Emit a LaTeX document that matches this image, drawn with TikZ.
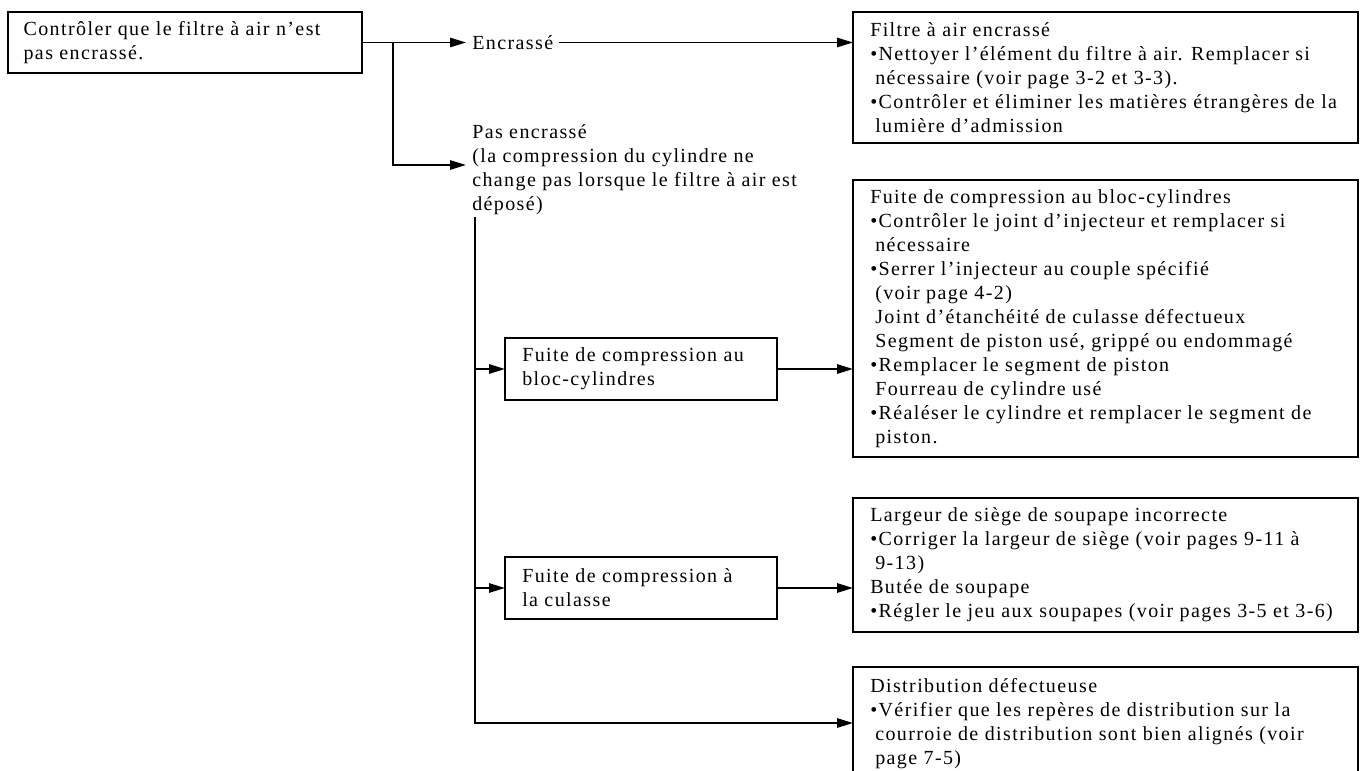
\documentclass[tikz,border=0pt]{standalone}
\usepackage{fontspec}
\setmainfont{Liberation Serif}[LetterSpace=7]
\usetikzlibrary{arrows.meta}

% indent for continuation lines inside the remedy boxes
\newcommand\indt{\hspace*{3.75pt}}

\begin{document}
\begin{tikzpicture}[x=0.75pt,y=-0.75pt,
  box/.style={draw,line width=1.2pt,anchor=north west,inner sep=0pt,outer sep=0pt},
  txt/.style={font=\fontsize{15pt}{18pt}\selectfont,align=left,inner sep=0pt},
  link/.style={line width=1.45pt},
  arr/.style={link,-{Triangle[length=12pt,width=7pt]}}
]
\path[use as bounding box] (0,0) rectangle (1360,771);
\clip (0,0) rectangle (1360,771);

% ---- boxes ----
\node[box,minimum width=265.5pt,minimum height=45.75pt] (bA) at (8,12) {};
\node[box,minimum width=378.75pt,minimum height=98.25pt] (bB) at (853,12) {};
\node[box,minimum width=204pt,minimum height=46.5pt] (bC) at (505,338) {};
\node[box,minimum width=204pt,minimum height=46.5pt] (bD) at (505,557) {};
\node[box,minimum width=378.75pt,minimum height=207.75pt] (bE) at (853,180) {};
\node[box,minimum width=378.75pt,minimum height=100.5pt] (bF) at (853,498) {};
\node[box,minimum width=378.75pt,minimum height=110pt] (bG) at (853,667) {};

% ---- box texts ----
\node[txt,anchor=west] (tA) at ([xshift=11.5pt]bA.west)
  {Contrôler que le filtre à air n’est\\pas encrassé.};
\node[txt,anchor=west] (tB) at ([xshift=12.75pt]bB.west)
  {Filtre à air encrassé\\
   •Nettoyer l’élément du filtre à air. Remplacer si\\
   \indt nécessaire (voir page 3-2 et 3-3).\\
   •Contrôler et éliminer les matières étrangères de la\\
   \indt lumière d’admission};
\node[txt,anchor=west] (tC) at ([xshift=12.75pt]bC.west)
  {Fuite de compression au\\bloc-cylindres};
\node[txt,anchor=west] (tD) at ([xshift=12.75pt]bD.west)
  {Fuite de compression à\\la culasse};
\node[txt,anchor=west] (tE) at ([xshift=12.75pt]bE.west)
  {Fuite de compression au bloc-cylindres\\
   •Contrôler le joint d’injecteur et remplacer si\\
   \indt nécessaire\\
   •Serrer l’injecteur au couple spécifié\\
   \indt (voir page 4-2)\\
   \indt Joint d’étanchéité de culasse défectueux\\
   \indt Segment de piston usé, grippé ou endommagé\\
   •Remplacer le segment de piston\\
   \indt Fourreau de cylindre usé\\
   •Réaléser le cylindre et remplacer le segment de\\
   \indt piston.};
\node[txt,anchor=west] (tF) at ([xshift=12.75pt]bF.west)
  {Largeur de siège de soupape incorrecte\\
   •Corriger la largeur de siège (voir pages 9-11 à\\
   \indt 9-13)\\
   Butée de soupape\\
   •Régler le jeu aux soupapes (voir pages 3-5 et 3-6)};
\node[txt,anchor=north west] (tG) at ([xshift=12.75pt,yshift=-8.6pt]bG.north west)
  {Distribution défectueuse\\
   •Vérifier que les repères de distribution sur la\\
   \indt courroie de distribution sont bien alignés (voir\\
   \indt page 7-5)};

% ---- branch labels ----
\node[txt,anchor=west,inner xsep=4.5pt] (enc) at (466,42.5) {Encrassé};
\node[txt,anchor=north west,inner xsep=4.5pt] (pas) at (466,124.5)
  {Pas encrassé\\(la compression du cylindre ne\\change pas lorsque le filtre à air est\\déposé)};

% ---- junction points ----
\coordinate (j1) at (393,42.5);
\coordinate (j2) at (393,165);
\coordinate (v0) at (475,217);
\coordinate (v1) at (475,369);
\coordinate (v2) at (475,588);
\coordinate (v3) at (475,723);

% ---- connectors ----
\draw[link] (bA.east) -- (j1);
\draw[arr] (j1) -- (enc.west);
\draw[arr] (enc.east) -- (enc.east -| bB.west);
\draw[arr] (j1) -- (j2) -- (j2 -| pas.west);
\draw[arr] (v0) -- (v3) -- (v3 -| bG.west);
\draw[arr] (v1) -- (bC.west);
\draw[arr] (v2) -- (bD.west);
\draw[arr] (bC.east) -- (bC.east -| bE.west);
\draw[arr] (bD.east) -- (bD.east -| bF.west);
\end{tikzpicture}
\end{document}
